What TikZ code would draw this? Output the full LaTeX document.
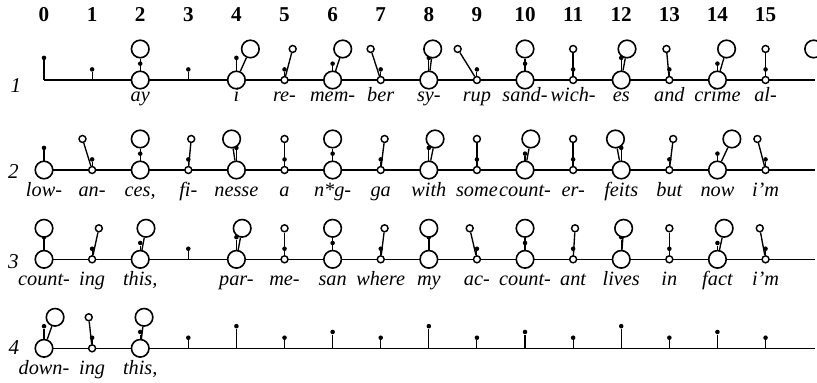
\documentclass[tikz,border=0pt]{standalone}
\usepackage{fontspec}
\setmainfont{Liberation Serif}
\usepackage{tikz}

\begin{document}
\begin{tikzpicture}[
	rowline/.style={line width=0.65pt},
	stem/.style={line width=0.65pt},
	link/.style={line width=0.8pt},
	dot/.style={shape=circle,fill=black,inner sep=0pt,minimum size=0.095cm},
	big/.style={shape=circle,draw=black,fill=white,line width=0.95pt,inner sep=0pt,minimum size=0.365cm},
	small/.style={shape=circle,draw=black,fill=white,line width=0.85pt,inner sep=0pt,minimum size=0.145cm},
	num/.style={anchor=base,font=\fontsize{12.5}{14}\selectfont\bfseries},
	rownum/.style={anchor=base,font=\fontsize{12.5}{14}\selectfont\itshape},
	syl/.style={anchor=base,inner sep=0pt,font=\fontsize{12}{14}\selectfont\itshape}]
	
	\useasboundingbox (-0.915,-7.942) rectangle (16.07,0);
	
	\foreach \c in {0,...,15}
		\node[num] (h\c) at (\c,-0.457) {\c};
	
	\node[rownum] (n1) at (-0.582,-1.913) {1};
	\node[rownum] (n2) at (-0.638,-3.701) {2};
	\node[rownum] (n3) at (-0.638,-5.572) {3};
	\node[rownum] (n4) at (-0.624,-7.360) {4};
	
	\coordinate (r1a) at (0,-1.663);
	\coordinate (r1b) at (16.03,-1.663);
	\coordinate (r2a) at (0,-3.534);
	\coordinate (r2b) at (16.03,-3.534);
	\coordinate (r3a) at (0,-5.391);
	\coordinate (r3b) at (16.03,-5.391);
	\coordinate (r4a) at (0,-7.241);
	\coordinate (r4b) at (16.03,-7.241);
	\draw[rowline] (r1a) -- (r1b);
	\draw[rowline] (r2a) -- (r2b);
	\draw[rowline] (r3a) -- (r3b);
	\draw[rowline] (r4a) -- (r4b);
	
	% metric grid: stem height by beat level
	\foreach \y [count=\r] in {-1.663,-3.534,-5.391,-7.241}
		\foreach \c/\h in {0/0.46,1/0.22,2/0.34,3/0.22,4/0.46,5/0.22,6/0.34,7/0.22,
			8/0.46,9/0.22,10/0.34,11/0.22,12/0.46,13/0.22,14/0.34,15/0.22} {
			\coordinate (g\r-\c) at (\c,\y);
			\node[dot] (d\r-\c) at (\c,\y+\h) {};
			\draw[stem] (g\r-\c) -- (d\r-\c);
		}
	
	% row 1
	\node[big] (r1c2) at (2,-1.663) {};
	\node[big] (r1c2u) at (2,-1.018) {};
	\node[big] (r1c4) at (4,-1.663) {};
	\node[big] (r1c4u) at (4.29,-1.018) {};
	\node[small] (r1c5) at (5,-1.663) {};
	\node[small] (r1c5u) at (5.17,-1.018) {};
	\node[big] (r1c6) at (6,-1.663) {};
	\node[big] (r1c6u) at (6.21,-1.018) {};
	\node[small] (r1c7) at (7,-1.663) {};
	\node[small] (r1c7u) at (6.79,-1.018) {};
	\node[big] (r1c8) at (8,-1.663) {};
	\node[big] (r1c8u) at (8.08,-1.018) {};
	\node[small] (r1c9) at (9,-1.663) {};
	\node[small] (r1c9u) at (8.60,-1.018) {};
	\node[big] (r1c10) at (10,-1.663) {};
	\node[big] (r1c10u) at (10,-1.018) {};
	\node[small] (r1c11) at (11,-1.663) {};
	\node[small] (r1c11u) at (11,-1.018) {};
	\node[big] (r1c12) at (12,-1.663) {};
	\node[big] (r1c12u) at (12.12,-1.018) {};
	\node[small] (r1c13) at (13,-1.663) {};
	\node[small] (r1c13u) at (12.94,-1.018) {};
	\node[big] (r1c14) at (14,-1.663) {};
	\node[big] (r1c14u) at (14.19,-1.018) {};
	\node[small] (r1c15) at (15,-1.663) {};
	\node[small] (r1c15u) at (15,-1.018) {};
	\node[big] (r1c16u) at (16,-1.018) {};
	
	\draw[link] (r1c2) -- (r1c2u);
	\draw[link] (r1c4) -- (r1c4u);
	\draw[link] (r1c5) -- (r1c5u);
	\draw[link] (r1c6) -- (r1c6u);
	\draw[link] (r1c7) -- (r1c7u);
	\draw[link] (r1c8) -- (r1c8u);
	\draw[link] (r1c9) -- (r1c9u);
	\draw[link] (r1c10) -- (r1c10u);
	\draw[link] (r1c11) -- (r1c11u);
	\draw[link] (r1c12) -- (r1c12u);
	\draw[link] (r1c13) -- (r1c13u);
	\draw[link] (r1c14) -- (r1c14u);
	\draw[link] (r1c15) -- (r1c15u);
	
	\node[syl] (t1c2) at (2,-2.11) {ay};
	\node[syl] (t1c4) at (4,-2.11) {i};
	\node[syl] (t1c5) at (5,-2.11) {re-};
	\node[syl] (t1c6) at (6,-2.11) {mem-};
	\node[syl] (t1c7) at (7,-2.11) {ber};
	\node[syl] (t1c8) at (8,-2.11) {sy-};
	\node[syl] (t1c9) at (9,-2.11) {rup};
	\node[syl] (t1c10) at (10,-2.11) {sand-};
	\node[syl] (t1c11) at (11,-2.11) {wich-};
	\node[syl] (t1c12) at (12,-2.11) {es};
	\node[syl] (t1c13) at (13,-2.11) {and};
	\node[syl] (t1c14) at (14,-2.11) {crime};
	\node[syl] (t1c15) at (15,-2.11) {al-};
	
	% row 2
	\node[big] (r2c0) at (0,-3.534) {};
	\node[small] (r2c1) at (1,-3.534) {};
	\node[small] (r2c1u) at (0.80,-2.889) {};
	\node[big] (r2c2) at (2,-3.534) {};
	\node[big] (r2c2u) at (2,-2.889) {};
	\node[small] (r2c3) at (3,-3.534) {};
	\node[small] (r2c3u) at (3.06,-2.889) {};
	\node[big] (r2c4) at (4,-3.534) {};
	\node[big] (r2c4u) at (3.90,-2.889) {};
	\node[small] (r2c5) at (5,-3.534) {};
	\node[small] (r2c5u) at (5,-2.889) {};
	\node[big] (r2c6) at (6,-3.534) {};
	\node[big] (r2c6u) at (6,-2.889) {};
	\node[small] (r2c7) at (7,-3.534) {};
	\node[small] (r2c7u) at (7.08,-2.889) {};
	\node[big] (r2c8) at (8,-3.534) {};
	\node[big] (r2c8u) at (8.13,-2.889) {};
	\node[small] (r2c9) at (9,-3.534) {};
	\node[small] (r2c9u) at (9,-2.889) {};
	\node[big] (r2c10) at (10,-3.534) {};
	\node[big] (r2c10u) at (10.12,-2.889) {};
	\node[small] (r2c11) at (11,-3.534) {};
	\node[small] (r2c11u) at (11,-2.889) {};
	\node[big] (r2c12) at (12,-3.534) {};
	\node[big] (r2c12u) at (11.88,-2.889) {};
	\node[small] (r2c13) at (13,-3.534) {};
	\node[small] (r2c13u) at (13.08,-2.889) {};
	\node[big] (r2c14) at (14,-3.534) {};
	\node[big] (r2c14u) at (14.30,-2.889) {};
	\node[small] (r2c15) at (15,-3.534) {};
	\node[small] (r2c15u) at (14.83,-2.889) {};
	
	\draw[link] (r2c1) -- (r2c1u);
	\draw[link] (r2c2) -- (r2c2u);
	\draw[link] (r2c3) -- (r2c3u);
	\draw[link] (r2c4) -- (r2c4u);
	\draw[link] (r2c5) -- (r2c5u);
	\draw[link] (r2c6) -- (r2c6u);
	\draw[link] (r2c7) -- (r2c7u);
	\draw[link] (r2c8) -- (r2c8u);
	\draw[link] (r2c9) -- (r2c9u);
	\draw[link] (r2c10) -- (r2c10u);
	\draw[link] (r2c11) -- (r2c11u);
	\draw[link] (r2c12) -- (r2c12u);
	\draw[link] (r2c13) -- (r2c13u);
	\draw[link] (r2c14) -- (r2c14u);
	\draw[link] (r2c15) -- (r2c15u);
	
	\node[syl] (t2c0) at (0,-4.085) {low-};
	\node[syl] (t2c1) at (1,-4.085) {an-};
	\node[syl] (t2c2) at (2,-4.085) {ces,};
	\node[syl] (t2c3) at (3,-4.085) {fi-};
	\node[syl] (t2c4) at (4,-4.085) {nesse};
	\node[syl] (t2c5) at (5,-4.085) {a};
	\node[syl] (t2c6) at (6,-4.085) {n*g-};
	\node[syl] (t2c7) at (7,-4.085) {ga};
	\node[syl] (t2c8) at (8,-4.085) {with};
	\node[syl] (t2c9) at (9,-4.085) {some};
	\node[syl] (t2c10) at (10,-4.085) {count-};
	\node[syl] (t2c11) at (11,-4.085) {er-};
	\node[syl] (t2c12) at (12,-4.085) {feits};
	\node[syl] (t2c13) at (13,-4.085) {but};
	\node[syl] (t2c14) at (14,-4.085) {now};
	\node[syl] (t2c15) at (15,-4.085) {i'm};
	
	% row 3
	\node[big] (r3c0) at (0,-5.391) {};
	\node[big] (r3c0u) at (0,-4.746) {};
	\node[small] (r3c1) at (1,-5.391) {};
	\node[small] (r3c1u) at (1.14,-4.746) {};
	\node[big] (r3c2) at (2,-5.391) {};
	\node[big] (r3c2u) at (2.12,-4.746) {};
	\node[big] (r3c4) at (4,-5.391) {};
	\node[big] (r3c4u) at (4.12,-4.746) {};
	\node[small] (r3c5) at (5,-5.391) {};
	\node[small] (r3c5u) at (5,-4.746) {};
	\node[big] (r3c6) at (6,-5.391) {};
	\node[big] (r3c6u) at (6,-4.746) {};
	\node[small] (r3c7) at (7,-5.391) {};
	\node[small] (r3c7u) at (7.08,-4.746) {};
	\node[big] (r3c8) at (8,-5.391) {};
	\node[big] (r3c8u) at (8,-4.746) {};
	\node[small] (r3c9) at (9,-5.391) {};
	\node[small] (r3c9u) at (8.85,-4.746) {};
	\node[big] (r3c10) at (10,-5.391) {};
	\node[big] (r3c10u) at (10,-4.746) {};
	\node[small] (r3c11) at (11,-5.391) {};
	\node[small] (r3c11u) at (11.04,-4.746) {};
	\node[big] (r3c12) at (12,-5.391) {};
	\node[big] (r3c12u) at (12.05,-4.746) {};
	\node[small] (r3c13) at (13,-5.391) {};
	\node[small] (r3c13u) at (13,-4.746) {};
	\node[big] (r3c14) at (14,-5.391) {};
	\node[big] (r3c14u) at (14.14,-4.746) {};
	\node[small] (r3c15) at (15,-5.391) {};
	\node[small] (r3c15u) at (14.88,-4.746) {};
	
	\draw[link] (r3c0) -- (r3c0u);
	\draw[link] (r3c1) -- (r3c1u);
	\draw[link] (r3c2) -- (r3c2u);
	\draw[link] (r3c4) -- (r3c4u);
	\draw[link] (r3c5) -- (r3c5u);
	\draw[link] (r3c6) -- (r3c6u);
	\draw[link] (r3c7) -- (r3c7u);
	\draw[link] (r3c8) -- (r3c8u);
	\draw[link] (r3c9) -- (r3c9u);
	\draw[link] (r3c10) -- (r3c10u);
	\draw[link] (r3c11) -- (r3c11u);
	\draw[link] (r3c12) -- (r3c12u);
	\draw[link] (r3c13) -- (r3c13u);
	\draw[link] (r3c14) -- (r3c14u);
	\draw[link] (r3c15) -- (r3c15u);
	
	\node[syl] (t3c0) at (0,-5.942) {count-};
	\node[syl] (t3c1) at (1,-5.942) {ing};
	\node[syl] (t3c2) at (2,-5.942) {this,};
	\node[syl] (t3c4) at (4,-5.942) {par-};
	\node[syl] (t3c5) at (5,-5.942) {me-};
	\node[syl] (t3c6) at (6,-5.942) {san};
	\node[syl] (t3c7) at (7,-5.942) {where};
	\node[syl] (t3c8) at (8,-5.942) {my};
	\node[syl] (t3c9) at (9,-5.942) {ac-};
	\node[syl] (t3c10) at (10,-5.942) {count-};
	\node[syl] (t3c11) at (11,-5.942) {ant};
	\node[syl] (t3c12) at (12,-5.942) {lives};
	\node[syl] (t3c13) at (13,-5.942) {in};
	\node[syl] (t3c14) at (14,-5.942) {fact};
	\node[syl] (t3c15) at (15,-5.942) {i'm};
	
	% row 4
	\node[big] (r4c0) at (0,-7.241) {};
	\node[big] (r4c0u) at (0.23,-6.596) {};
	\node[small] (r4c1) at (1,-7.241) {};
	\node[small] (r4c1u) at (0.93,-6.596) {};
	\node[big] (r4c2) at (2,-7.241) {};
	\node[big] (r4c2u) at (2.08,-6.596) {};
	
	\draw[link] (r4c0) -- (r4c0u);
	\draw[link] (r4c1) -- (r4c1u);
	\draw[link] (r4c2) -- (r4c2u);
	
	\node[syl] (t4c0) at (0,-7.792) {down-};
	\node[syl] (t4c1) at (1,-7.792) {ing};
	\node[syl] (t4c2) at (2,-7.792) {this,};
	
\end{tikzpicture}
\end{document}
